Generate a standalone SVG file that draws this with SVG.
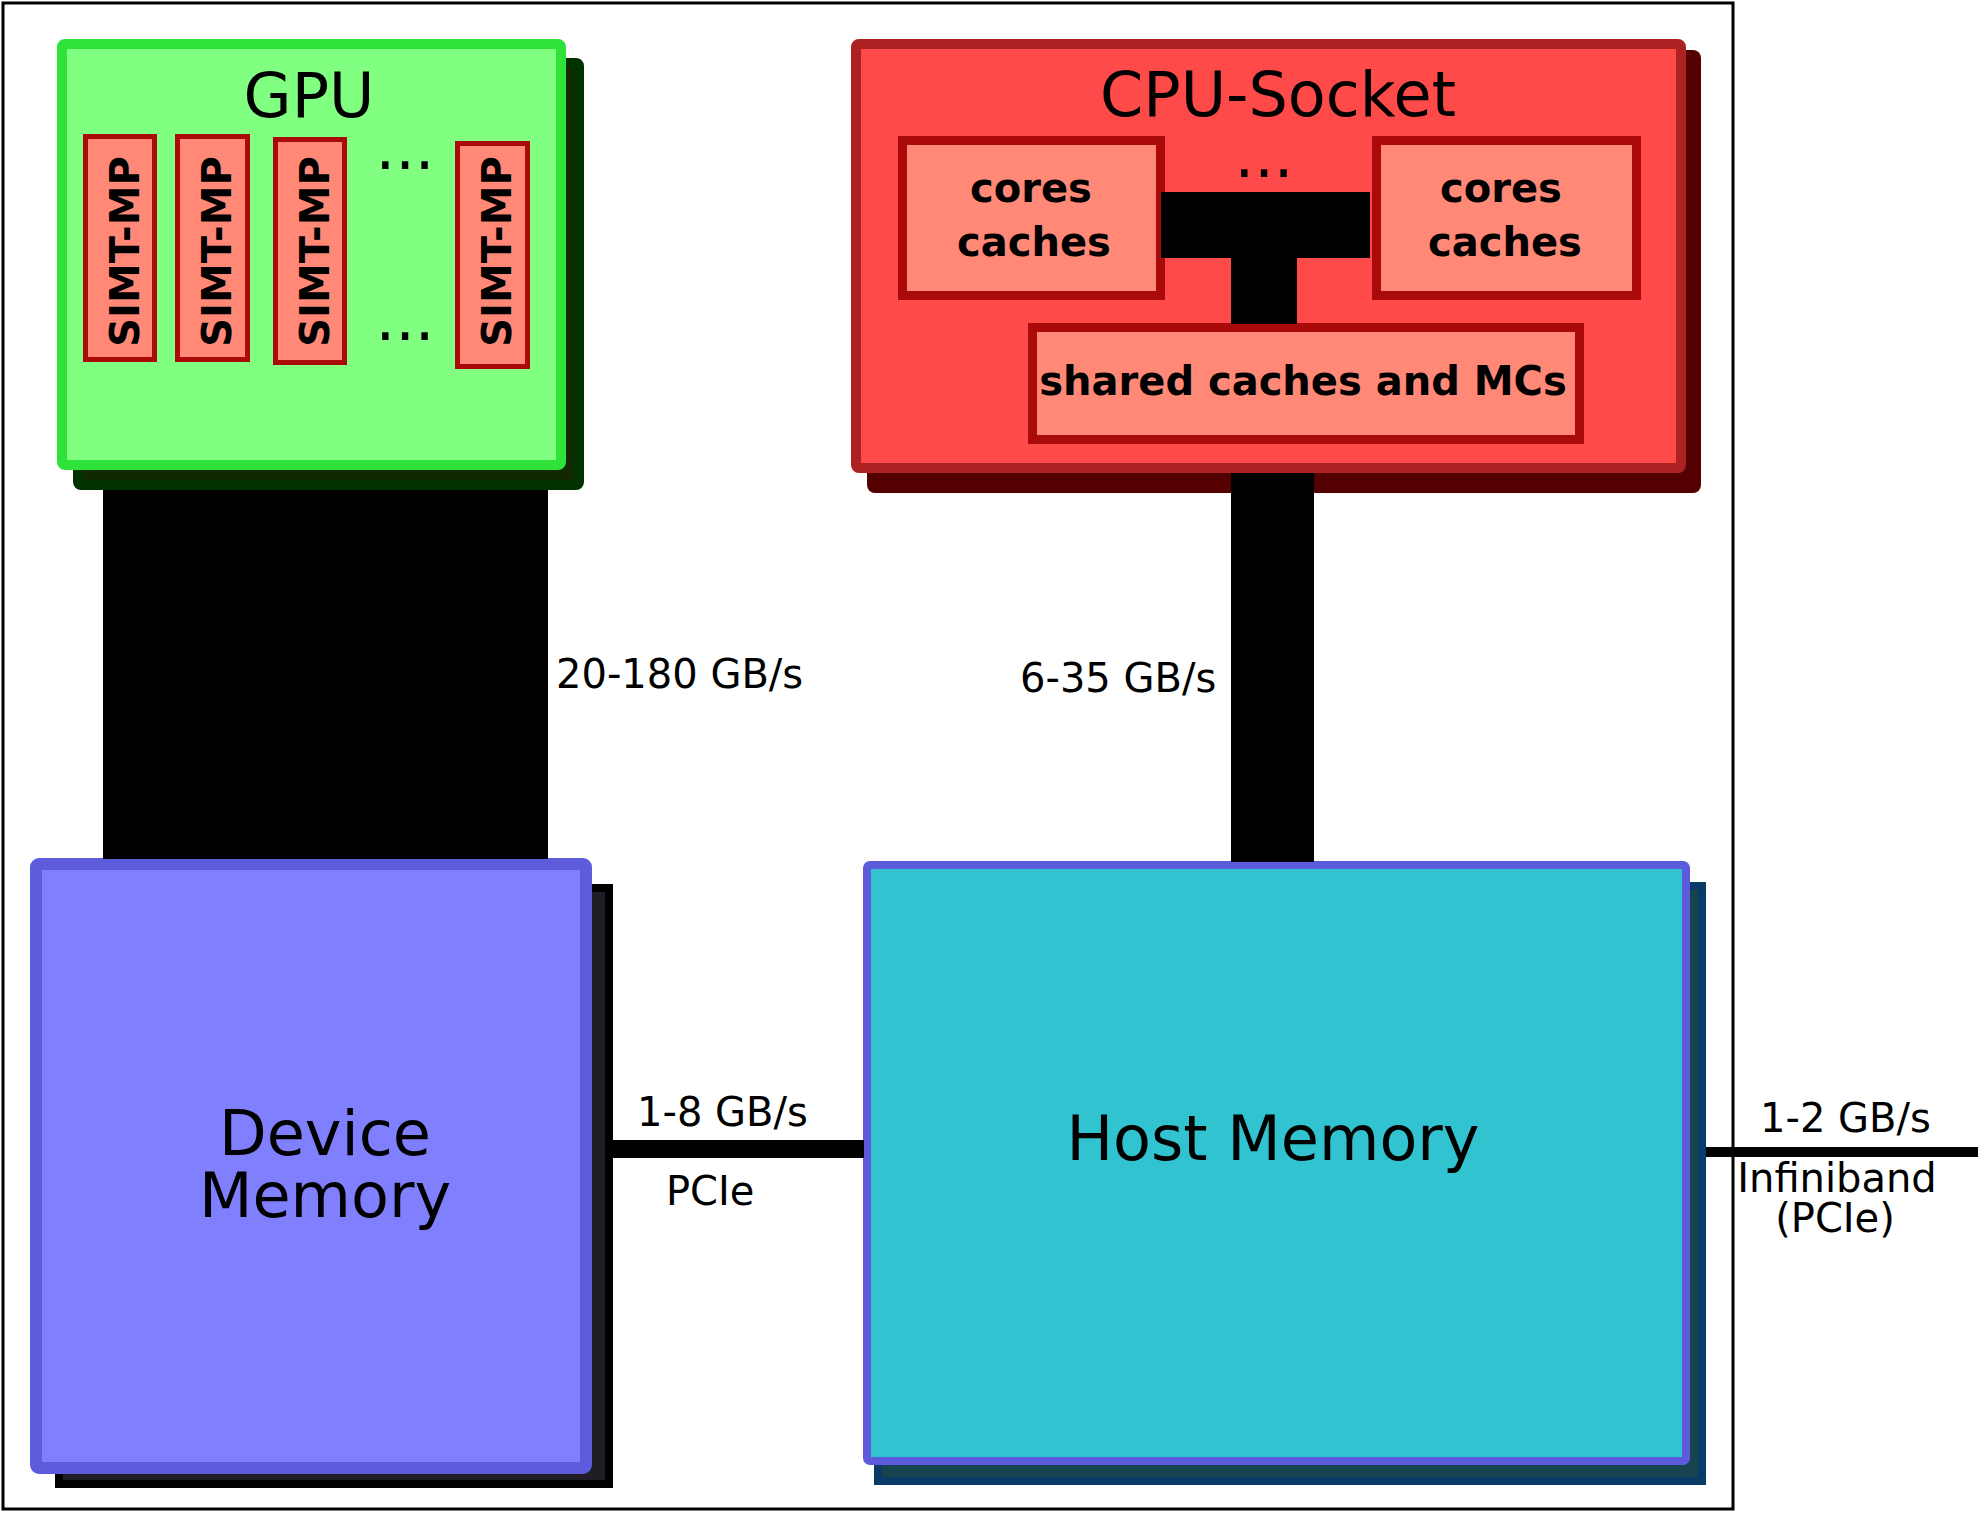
<svg xmlns="http://www.w3.org/2000/svg" width="1978" height="1513" viewBox="0 0 1978 1513">
<style>
text{font-family:"DejaVu Sans","Liberation Sans",sans-serif;fill:#000}
.t62{font-size:62px}
.lbl{font-size:40px}
.bold{font-weight:bold}
.mid{text-anchor:middle}
.simt{fill:#ff8877;stroke:#aa0a0a;stroke-width:5}
.core{fill:#ff8877;stroke:#aa0a0a;stroke-width:9}
.conn{fill:#000}
</style>
<rect id="frame" x="3" y="3" width="1730" height="1506" fill="#fff" stroke="#000" stroke-width="3"/>
<g id="gpu">
  <rect x="78" y="63" width="501" height="422" rx="3" fill="#112800" stroke="#003300" stroke-width="10"/>
  <rect x="62" y="44" width="499" height="421" rx="3" fill="#80ff80" stroke="#2ee23a" stroke-width="10"/>
  <text class="t62 mid" x="309" y="117">GPU</text>
  <rect class="simt" x="85.5" y="136.5" width="69" height="223"/>
  <rect class="simt" x="177.5" y="136.5" width="70" height="223"/>
  <rect class="simt" x="275.5" y="139.5" width="69" height="223"/>
  <rect class="simt" x="457.5" y="143.5" width="70" height="223"/>
  <text class="lbl bold mid" transform="translate(138.5 251.5) rotate(-90)">SIMT-MP</text>
  <text class="lbl bold mid" transform="translate(230.5 251.5) rotate(-90)">SIMT-MP</text>
  <text class="lbl bold mid" transform="translate(329 251.5) rotate(-90)">SIMT-MP</text>
  <text class="lbl bold mid" transform="translate(511 251.5) rotate(-90)">SIMT-MP</text>
  <text class="t62 mid" x="405" y="169">...</text>
  <text class="t62 mid" x="405" y="340">...</text>
</g>
<g id="cpu">
  <rect x="867" y="50" width="834" height="443" rx="8" fill="#550000"/>
  <rect x="856" y="44" width="825" height="424" rx="3" fill="#ff4a4a" stroke="#ac2222" stroke-width="10"/>
  <text class="t62 mid" x="1278" y="116">CPU-Socket</text>
  <text class="t62 mid" x="1264" y="177">...</text>
</g>
<g id="cores1">
  <rect class="core" x="902.5" y="140.5" width="258" height="155"/>
  <text class="lbl bold mid" x="1031" y="202">cores</text>
  <text class="lbl bold mid" x="1034" y="256">caches</text>
</g>
<g id="cores2">
  <rect class="core" x="1376.5" y="140.5" width="260" height="155"/>
  <text class="lbl bold mid" x="1501" y="202">cores</text>
  <text class="lbl bold mid" x="1505" y="256">caches</text>
</g>
<g id="shared">
  <rect class="core" x="1032.5" y="327.5" width="547" height="112"/>
  <text class="lbl bold mid" x="1303" y="395">shared caches and MCs</text>
</g>
<g id="device">
  <rect x="59" y="888" width="550" height="596" fill="#201c26" stroke="#000" stroke-width="8"/>
  <rect x="36" y="864" width="550" height="604" rx="3" fill="#8080ff" stroke="#5c5cdc" stroke-width="12"/>
  <text class="t62 mid" x="325" y="1155">Device</text>
  <text class="t62 mid" x="325" y="1217">Memory</text>
</g>
<g id="host">
  <rect x="878" y="886" width="824" height="595" fill="#17434f" stroke="#0a3a68" stroke-width="8"/>
  <rect x="867" y="865" width="819" height="596" rx="3" fill="#31c3d0" stroke="#5b5bdb" stroke-width="8"/>
  <text class="t62 mid" x="1273" y="1160">Host Memory</text>
</g>
<g id="connectors">
  <rect class="conn" x="103" y="490" width="445" height="369"/>
  <rect class="conn" x="1231" y="473" width="83" height="389"/>
  <rect class="conn" x="1161" y="192" width="209" height="66"/>
  <rect class="conn" x="1231" y="258" width="66" height="66"/>
  <rect class="conn" x="613" y="1140" width="251" height="18"/>
  <rect class="conn" x="1706" y="1147" width="272" height="10"/>
</g>
<g id="labels">
  <text class="lbl" x="556" y="688">20-180 GB/s</text>
  <text class="lbl" x="1020" y="692">6-35 GB/s</text>
  <text class="lbl" x="637" y="1126">1-8 GB/s</text>
  <text class="lbl" x="666" y="1205">PCIe</text>
  <text class="lbl" x="1760" y="1132">1-2 GB/s</text>
  <text class="lbl mid" x="1837" y="1192">Infiniband</text>
  <text class="lbl mid" x="1835" y="1232">(PCIe)</text>
</g>
</svg>
